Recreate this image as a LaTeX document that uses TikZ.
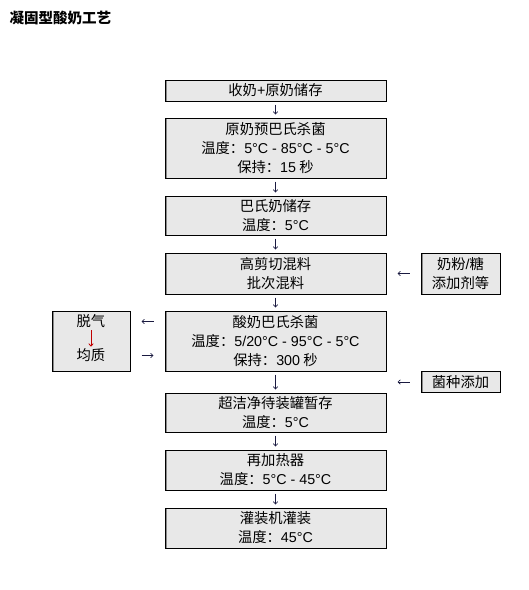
\documentclass[tikz,border=0pt]{standalone}
\usepackage{fontspec}
\setmainfont{Noto Sans CJK SC}
\newfontfamily\lat{Liberation Sans}
\usetikzlibrary{arrows.meta, positioning}
\definecolor{boxfill}{HTML}{E8E8E8}
\definecolor{edgegray}{HTML}{8A8A8A}
\definecolor{arrowblue}{HTML}{1A1A40}
\definecolor{arrowred}{HTML}{C00000}

\begin{document}
\begin{tikzpicture}[x=1pt, y=-1pt,
  stepbox/.style={rectangle, draw=black, line width=1pt, fill=boxfill,
    minimum width=221pt, align=center, inner sep=0pt,
    font=\fontsize{14.3}{19}\selectfont,
    path picture={\draw[edgegray, line width=3pt]
      (path picture bounding box.north west) -- (path picture bounding box.south west);}},
  sidebox/.style={stepbox, minimum width=79pt},
  arr/.style={-{Straight Barb[length=2.5pt,width=4.5pt]}, arrowblue,
    line width=0.6pt, shorten <=3pt, shorten >=3pt},
  arrh/.style={arr, shorten <=11pt, shorten >=11pt},
  node distance=17pt,
]
  \useasboundingbox (0,0) rectangle (529,590);
  \node[font=\fontsize{14.5}{17}\selectfont\bfseries, anchor=west] (title) at (6,18) {凝固型酸奶工艺};

  % main line
  \node[stepbox, minimum height=21pt] (collect) at (275.5,90.5) {收奶{\lat +}原奶储存};
  \node[stepbox, minimum height=60pt, below=16pt of collect] (prepast)
    {原奶预巴氏杀菌\\温度：{\lat 5°C - 85°C - 5°C}\\保持：{\lat 15} 秒};
  \node[stepbox, minimum height=39pt, below=of prepast] (store)
    {巴氏奶储存\\温度：{\lat 5°C}};
  \node[stepbox, minimum height=41pt, below=of store] (mix)
    {高剪切混料\\批次混料};
  \node[stepbox, minimum height=60pt, below=16pt of mix] (pasteur)
    {酸奶巴氏杀菌\\温度：{\lat 5/20°C - 95°C - 5°C}\\保持：{\lat 300} 秒};
  \node[stepbox, minimum height=39pt, below=21pt of pasteur] (tank)
    {超洁净待装罐暂存\\温度：{\lat 5°C}};
  \node[stepbox, minimum height=40pt, below=of tank] (reheat)
    {再加热器\\温度：{\lat 5°C - 45°C}};
  \node[stepbox, minimum height=40pt, below=of reheat] (filling)
    {灌装机灌装\\温度：{\lat 45°C}};

  % side boxes
  \node[sidebox, minimum height=41pt, right=34pt of mix] (powder) {奶粉{\lat /}糖\\添加剂等};
  \node[sidebox, minimum width=78pt, minimum height=60pt, left=34pt of pasteur] (treat) {};
  \node[font=\fontsize{14.3}{19}\selectfont, inner sep=1pt] (degas) at ([yshift=-11pt]treat.north) {脱气};
  \node[font=\fontsize{14.3}{19}\selectfont, inner sep=1pt] (homog) at ([yshift=16pt]treat.south) {均质};
  \node[sidebox, minimum height=21pt] (seed) at (460.5,382) {菌种添加};
  \coordinate (seedin) at (tank.east |- seed.west);

  % arrows
  \foreach \a/\b in {collect/prepast, prepast/store, store/mix, mix/pasteur,
                     pasteur/tank, tank/reheat, reheat/filling}
    \draw[arr] (\a) -- (\b);
  \draw[arrh] (powder) -- (mix);
  \draw[arrh] (seed.west) -- (seedin);
  \draw[arrh] (pasteur.west |- degas) -- (treat.east |- degas);
  \draw[arrh] (treat.east |- homog) -- (pasteur.west |- homog);
  \draw[arr, arrowred, line width=0.8pt, shorten <=1pt, shorten >=1pt] (degas) -- (homog);
\end{tikzpicture}
\end{document}
